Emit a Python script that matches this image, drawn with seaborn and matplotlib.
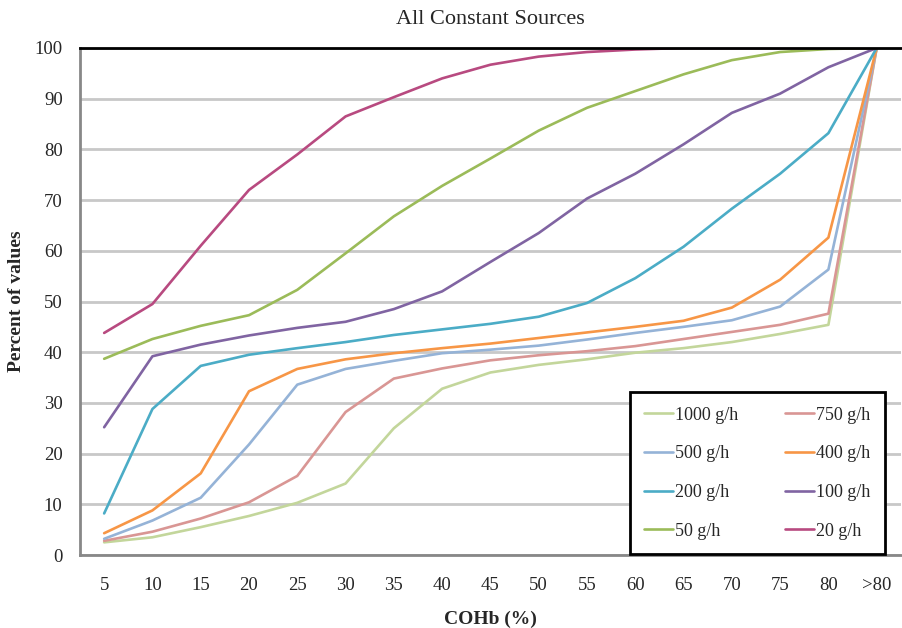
import pandas as pd
import seaborn as sns
import matplotlib.pyplot as plt

# valores
cohb = ["5", "10", "15", "20", "25", "30", "35", "40", "45", "50",
        "55", "60", "65", "70", "75", "80", ">80"]

s1000 = [2.5, 3.5, 5.5, 7.7, 10.3, 14.1, 25.0, 32.8, 36.0, 37.5, 38.6, 39.9, 40.8, 42.0, 43.6, 45.4, 100]
s750 = [2.8, 4.6, 7.2, 10.4, 15.6, 28.2, 34.8, 36.8, 38.4, 39.4, 40.2, 41.2, 42.6, 44.0, 45.4, 47.6, 100]
s500 = [3.2, 6.8, 11.3, 21.8, 33.6, 36.7, 38.3, 39.8, 40.5, 41.3, 42.5, 43.8, 45.0, 46.3, 49.0, 56.3, 100]
s400 = [4.3, 8.8, 16.1, 32.3, 36.7, 38.6, 39.8, 40.8, 41.7, 42.8, 43.9, 45.0, 46.2, 48.8, 54.3, 62.6, 100]
s200 = [8.2, 28.8, 37.3, 39.5, 40.8, 42.0, 43.4, 44.5, 45.6, 47.0, 49.7, 54.6, 60.8, 68.3, 75.2, 83.2, 100]
s100 = [25.2, 39.2, 41.5, 43.3, 44.8, 46.0, 48.5, 52.0, 57.8, 63.5, 70.3, 75.2, 81.0, 87.2, 91.0, 96.2, 100]
s50 = [38.7, 42.6, 45.2, 47.3, 52.3, 59.5, 66.8, 72.8, 78.2, 83.7, 88.2, 91.5, 94.8, 97.6, 99.2, 99.8, 100]
s20 = [43.8, 49.5, 61.0, 72.0, 79.0, 86.5, 90.3, 94.0, 96.7, 98.3, 99.2, 99.7, 100, 100, 100, 100, 100]

series = ["1000 g/h", "750 g/h", "500 g/h", "400 g/h", "200 g/h", "100 g/h", "50 g/h", "20 g/h"]
valores = [s1000, s750, s500, s400, s200, s100, s50, s20]
colores = ["#c3d69b", "#d99694", "#95b3d7", "#f79646", "#4bacc6", "#8064a2", "#9bbb59", "#b84a80"]

# tabla larga para seaborn
filas = []
for nombre, vals in zip(series, valores):
    for c, v in zip(cohb, vals):
        filas.append({"COHb": c, "Percent": v, "Fuente": nombre})
df = pd.DataFrame(filas)

sns.set_style("white")
plt.rcParams["font.family"] = ["Liberation Serif", "DejaVu Serif"]

fig = plt.figure(figsize=(9.02, 6.28), dpi=100)
ax = fig.add_axes([0.0887, 0.1162, 0.91, 0.8074])

sns.lineplot(data=df, x="COHb", y="Percent", hue="Fuente", hue_order=series,
             palette=colores, linewidth=1.9, ax=ax, sort=False)

ax.set_xlim(-0.5, len(cohb) - 0.5)
ax.set_ylim(0, 100)
ax.set_yticks(range(0, 101, 10))
ax.set_xticks(range(len(cohb)))
ax.set_xticklabels(cohb)
ax.set_xticks([i - 0.5 for i in range(len(cohb) + 1)], minor=True)
ax.tick_params(axis="x", which="major", length=0, labelsize=13.5, pad=16)
ax.tick_params(axis="x", which="minor", length=3.5, color="#888888", width=1.2)
ax.tick_params(axis="y", length=3.5, color="#888888", width=1.2, labelsize=13.5, pad=9)
ax.yaxis.grid(True, color="#c8c8c8", linewidth=2)
ax.set_axisbelow(True)

for lado in ["left", "bottom"]:
    ax.spines[lado].set_color("#888888")
    ax.spines[lado].set_linewidth(2)
ax.spines["top"].set_color("black")
ax.spines["top"].set_linewidth(2)
ax.spines["right"].set_visible(False)

ax.set_title("All Constant Sources", fontsize=16, pad=17)
ax.set_xlabel("COHb (%)", fontsize=14, fontweight="bold", labelpad=12)
ax.set_ylabel("Percent of values", fontsize=14, fontweight="bold", labelpad=7)

# leyenda en orden por filas
h, l = ax.get_legend_handles_labels()
orden = [0, 2, 4, 6, 1, 3, 5, 7]
leg = ax.legend([h[i] for i in orden], [l[i] for i in orden], ncol=2,
                loc="lower center", bbox_to_anchor=(0.825, 0.002), fontsize=13,
                frameon=True, fancybox=False, borderpad=0.8, borderaxespad=0,
                labelspacing=1.2, handlelength=1.6, handletextpad=0.1,
                columnspacing=2.6, facecolor="white", framealpha=1)
leg.get_frame().set_edgecolor("black")
leg.get_frame().set_linewidth(2)

plt.savefig("out.png", dpi=100)
